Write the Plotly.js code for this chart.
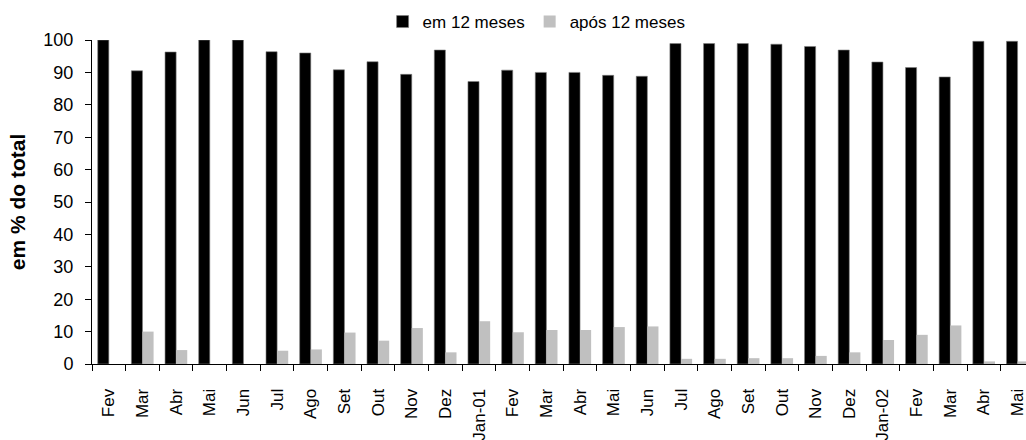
<!DOCTYPE html>
<html>
<head>
<meta charset="utf-8">
<script src="https://cdn.plot.ly/plotly-3.0.1.min.js"></script>
<style>
  html, body { margin: 0; padding: 0; background: #ffffff; }
  #chart { width: 1026px; height: 440px; }
</style>
</head>
<body>
<div id="chart"></div>
<script>
// 27 monthly periods, Fev/2000 .. Mai/2002 (unique keys) and their displayed labels
const periodKeys = [
  "2000-02","2000-03","2000-04","2000-05","2000-06","2000-07","2000-08","2000-09","2000-10","2000-11","2000-12",
  "2001-01","2001-02","2001-03","2001-04","2001-05","2001-06","2001-07","2001-08","2001-09","2001-10","2001-11","2001-12",
  "2002-01","2002-02","2002-03","2002-04","2002-05"
];
const periodLabels = [
  "Fev","Mar","Abr","Mai","Jun","Jul","Ago","Set","Out","Nov","Dez",
  "Jan-01","Fev","Mar","Abr","Mai","Jun","Jul","Ago","Set","Out","Nov","Dez",
  "Jan-02","Fev","Mar","Abr","Mai"
];

// em 12 meses (% do total)
const em12meses = [
  100, 90.5, 96.3, 100, 100, 96.4, 96.0, 90.8, 93.3, 89.4, 96.9,
  87.2, 90.7, 90.0, 90.0, 89.1, 88.8, 98.9, 98.9, 98.9, 98.7, 98.0, 96.9,
  93.2, 91.5, 88.6, 99.6, 99.6
];
// após 12 meses (% do total)
const apos12meses = [
  0, 10.0, 4.3, 0, 0, 4.1, 4.5, 9.7, 7.2, 11.1, 3.6,
  13.2, 9.8, 10.5, 10.5, 11.4, 11.6, 1.6, 1.6, 1.8, 1.8, 2.5, 3.6,
  7.4, 9.0, 11.9, 0.8, 0.8
];

const yTickVals = [0,10,20,30,40,50,60,70,80,90,100];

const traces = [
  {
    type: "bar",
    name: "em 12 meses",
    x: periodKeys,
    y: em12meses,
    marker: { color: "#000000", line: { color: "#7f7f7f", width: 0.6 } },
    hoverinfo: "skip"
  },
  {
    type: "bar",
    name: "após 12 meses",
    x: periodKeys,
    y: apos12meses,
    marker: { color: "#c0c0c0", line: { color: "#c0c0c0", width: 0 } },
    hoverinfo: "skip"
  }
];

const fontFam = "Arial, 'Liberation Sans', sans-serif";

const layout = {
  width: 1026,
  height: 440,
  margin: { l: 92, r: 0, t: 37, b: 76, pad: 0 },
  paper_bgcolor: "#ffffff",
  plot_bgcolor: "#ffffff",
  font: { family: fontFam, color: "#000000", size: 16 },
  barmode: "group",
  bargap: 0.34,
  bargroupgap: 0,
  showlegend: true,
  legend: {
    orientation: "h",
    xref: "container",
    yref: "container",
    x: 0.523,
    xanchor: "center",
    y: 0.95,
    yanchor: "middle",
    font: { family: fontFam, size: 17, color: "#000000" },
    itemwidth: 30,
    tracegroupgap: 0,
    bgcolor: "rgba(0,0,0,0)"
  },
  xaxis: {
    type: "category",
    range: [-0.5, periodKeys.length - 1 + 0.25],
    tickmode: "array",
    tickvals: periodKeys,
    ticktext: periodLabels,
    tickangle: -90,
    tickson: "boundaries",
    ticks: "outside",
    ticklen: 6,
    tickwidth: 1,
    tickcolor: "#000000",
    showline: true,
    linecolor: "#000000",
    linewidth: 1,
    showgrid: false,
    zeroline: false,
    ticklabelstandoff: 17,
    tickfont: { family: fontFam, size: 17, color: "#000000" },
    fixedrange: true
  },
  yaxis: {
    range: [0, 100],
    tickmode: "array",
    tickvals: yTickVals,
    ticktext: yTickVals.map(String),
    ticks: "outside",
    ticklen: 6,
    tickwidth: 1,
    tickcolor: "#000000",
    showline: true,
    linecolor: "#000000",
    linewidth: 1,
    showgrid: false,
    zeroline: false,
    ticklabelstandoff: 8,
    tickfont: { family: fontFam, size: 18, color: "#000000" },
    title: {
      text: "<b>em % do total</b>",
      font: { family: fontFam, size: 21, color: "#000000" },
      standoff: 12
    },
    fixedrange: true
  }
};

Plotly.newPlot("chart", traces, layout, { displayModeBar: false, staticPlot: true });
</script>
</body>
</html>
